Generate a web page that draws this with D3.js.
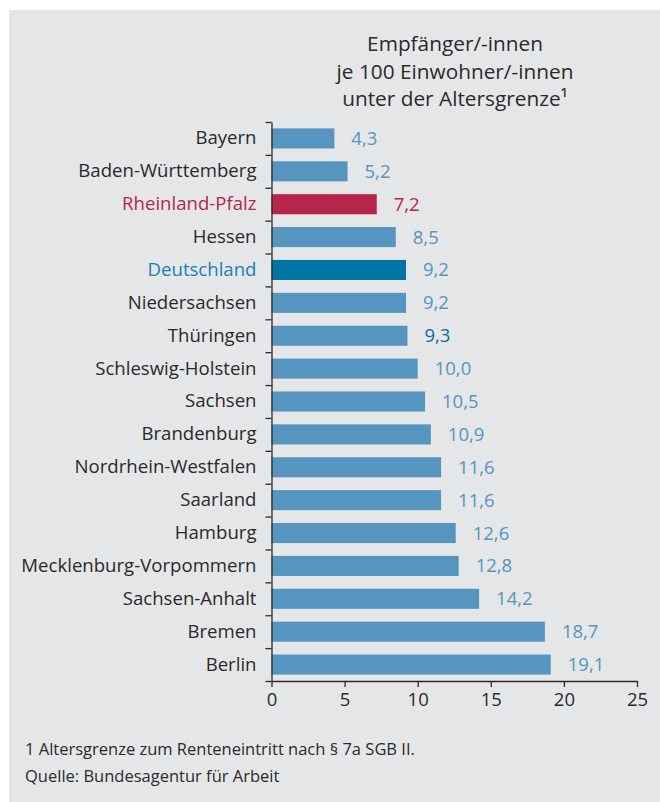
<!DOCTYPE html>
<html lang="de">
<head>
  <meta charset="UTF-8">
  <title>Empfänger/-innen je 100 Einwohner/-innen</title>
  <script src="https://d3js.org/d3.v7.min.js"></script>
  <style>
    body { margin: 0; background: #fff; font-family: "Open Sans", "Noto Sans", sans-serif; }
    #chart svg { display: block; }
    .tick text { fill: #2a2a2a; }
  </style>
</head>
<body>
  <div id="chart"></div>

  <script>
    // Daten
    const laender = ["Bayern", "Baden-Württemberg", "Rheinland-Pfalz", "Hessen", "Deutschland",
      "Niedersachsen", "Thüringen", "Schleswig-Holstein", "Sachsen", "Brandenburg",
      "Nordrhein-Westfalen", "Saarland", "Hamburg", "Mecklenburg-Vorpommern",
      "Sachsen-Anhalt", "Bremen", "Berlin"];
    const werte = [4.3, 5.2, 7.2, 8.5, 9.2, 9.2, 9.3, 10.0, 10.5, 10.9, 11.6, 11.6, 12.6, 12.8, 14.2, 18.7, 19.1];
    const xTicks = [0, 5, 10, 15, 20, 25];
    const titel = ["Empfänger/-innen", "je 100 Einwohner/-innen", "unter der Altersgrenze¹"];
    const fussnoten = ["1 Altersgrenze zum Renteneintritt nach § 7a SGB II.", "Quelle: Bundesagentur für Arbeit"];

    const width = 660, height = 802;
    const mLeft = 271.5, mRight = 637, mTop = 122, mBottom = 681;

    const barColor = d => d === "Rheinland-Pfalz" ? "#b5264a" : d === "Deutschland" ? "#0074a2" : "#5595bf";
    const labelColor = d => d === "Rheinland-Pfalz" ? "#b5264a" : d === "Deutschland" ? "#1a7fb2" : "#2a2a2a";
    const valueColor = d => d === "Rheinland-Pfalz" ? "#b5264a" : d === "Thüringen" ? "#0a6d9f" : "#5595bf";

    const svg = d3.select("#chart").append("svg")
      .attr("width", width)
      .attr("height", height);

    svg.append("rect")
      .attr("x", 9).attr("y", 10)
      .attr("width", width - 9).attr("height", height - 10)
      .attr("fill", "#e5e6e8");

    const x = d3.scaleLinear().domain([0, 25]).range([mLeft, mRight]);
    const y = d3.scaleBand().domain(laender).range([mTop, mBottom])
      .paddingInner(0.39).paddingOuter(0.195);
    const yGrenzen = d3.scaleLinear().domain([0, laender.length]).range([mTop, mBottom]);

    // Titel
    svg.append("text")
      .attr("x", 455).attr("y", 51)
      .attr("text-anchor", "middle")
      .attr("font-size", 20.8)
      .attr("fill", "#2a2a2a")
      .selectAll("tspan")
      .data(titel)
      .join("tspan")
      .attr("x", 455)
      .attr("dy", (d, i) => i === 0 ? 0 : 27.5)
      .text(d => d);

    // Balken
    svg.append("g")
      .selectAll("rect")
      .data(laender)
      .join("rect")
      .attr("x", x(0))
      .attr("y", d => y(d))
      .attr("width", (d, i) => x(werte[i]) - x(0))
      .attr("height", y.bandwidth())
      .attr("fill", barColor);

    // Werte
    svg.append("g")
      .selectAll("text")
      .data(laender)
      .join("text")
      .attr("x", (d, i) => x(werte[i]) + 17)
      .attr("y", d => y(d) + y.bandwidth() / 2)
      .attr("dy", "0.35em")
      .attr("font-size", 18.5)
      .attr("fill", valueColor)
      .text((d, i) => d3.format(".1f")(werte[i]).replace(".", ","));

    // y-Achse: Kategorien
    const yAxis = svg.append("g")
      .attr("transform", `translate(${mLeft},0)`)
      .call(d3.axisLeft(y).tickSize(0).tickPadding(15))
      .attr("font-family", null)
      .attr("font-size", 18.6);
    yAxis.select(".domain").remove();
    yAxis.selectAll(".tick text")
      .style("fill", labelColor);

    // y-Achse: Linie mit Trennstrichen
    const yLinie = svg.append("g")
      .attr("transform", `translate(${mLeft},0)`)
      .call(d3.axisLeft(yGrenzen).tickValues(d3.range(laender.length + 1)).tickSize(6).tickSizeOuter(0).tickFormat(""));
    yLinie.selectAll("path, line").attr("stroke", "#2a2a2a").attr("stroke-width", 1.3);

    // x-Achse
    const xAxis = svg.append("g")
      .attr("transform", `translate(0,${mBottom})`)
      .call(d3.axisBottom(x).tickValues(xTicks).tickSize(6).tickSizeOuter(0).tickPadding(6))
      .attr("font-family", null)
      .attr("font-size", 18.5);
    xAxis.selectAll("path, line").attr("stroke", "#2a2a2a").attr("stroke-width", 1.3);

    // Fußnoten
    svg.append("g")
      .selectAll("text")
      .data(fussnoten)
      .join("text")
      .attr("x", 25)
      .attr("y", (d, i) => 755 + i * 26.5)
      .attr("font-size", 16.5)
      .attr("fill", "#2a2a2a")
      .text(d => d);
  </script>
</body>
</html>
